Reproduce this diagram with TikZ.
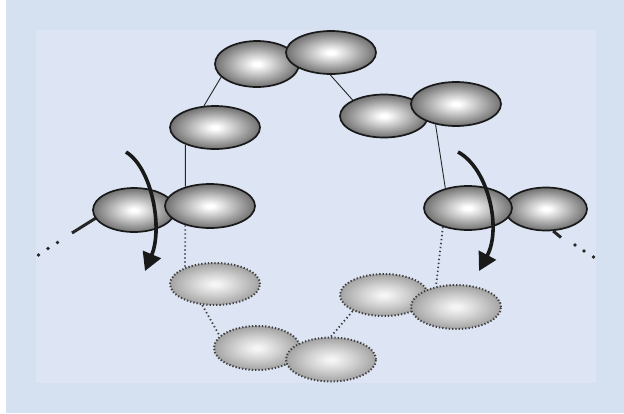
\documentclass[tikz,border=0pt]{standalone}
\usetikzlibrary{shapes.geometric,arrows.meta}
\definecolor{outerbg}{HTML}{D5E0F1}
\definecolor{innerbg}{HTML}{DDE5F4}
\definecolor{dotgray}{HTML}{404040}
\pgfdeclareradialshading{beadshade}{\pgfpointorigin}{color(0bp)=(white); color(2bp)=(white); color(12bp)=(black!24); color(25bp)=(black!56); color(50bp)=(black!56)}
\pgfdeclareradialshading{ghostshade}{\pgfpointorigin}{color(0bp)=(white!96!black); color(2bp)=(white!96!black); color(12bp)=(black!17); color(25bp)=(black!36); color(50bp)=(black!36)}
\tikzset{
  bead/.style={ellipse, draw=black!90, line width=1.7pt, shading=beadshade, inner sep=0pt},
  beadshape/.style={ellipse, inner sep=0pt},
  ghost/.style={ellipse, draw=dotgray, line width=2pt, dash pattern=on 1.3pt off 2pt, shading=ghostshade, inner sep=0pt},
  link/.style={draw=black!85, line width=0.9pt},
  ghostlink/.style={draw=dotgray, line width=1.8pt, dash pattern=on 1.4pt off 2.6pt},
  stub/.style={draw=black!85, line width=3pt},
  dotmark/.style={circle, fill=black!85, inner sep=0pt, minimum size=3.8pt},
  turn/.style={draw=black!90, line width=3.6pt, -{Triangle[length=18pt,width=19pt]}}
}
\begin{document}
\begin{tikzpicture}[x=1pt,y=-1pt]
\useasboundingbox (0,0) rectangle (624,413);
\fill[outerbg] (0,0) rectangle (624,413);
\fill[white] (0,0) rectangle (6,413);
\fill[innerbg] (36,30) rectangle (596,383);

% free ends of the stubs
\coordinate (stubL) at (72,233);
\coordinate (stubR) at (561,237.5);

% lower (ghost) beads
\node[ghost, minimum width=86, minimum height=44] (n13) at (257,348) {};
\node[ghost, minimum width=90, minimum height=44] (n14) at (331,359.5) {};
\node[ghost, minimum width=88, minimum height=42] (n11) at (384,295) {};
\node[ghost, minimum width=90, minimum height=44] (n12) at (456,307) {};
\node[ghost, minimum width=90, minimum height=42] (n10) at (215,284) {};

% upper beads
\node[bead, minimum width=84, minimum height=46] (n1) at (257,64) {};
\node[bead, minimum width=90, minimum height=43] (n2) at (331,52.5) {};
\node[bead, minimum width=88, minimum height=43] (n4) at (384,116) {};
\node[bead, minimum width=90, minimum height=44] (n5) at (456,104) {};
\node[bead, minimum width=90, minimum height=43] (n3) at (215,127.5) {};

% left stub behind n6
\path node[beadshape, minimum width=82, minimum height=44] (n6) at (134,210) {};
\draw[stub] (stubL) -- (n6.192);
\node[bead, minimum width=82, minimum height=44] (n6) at (134,210) {};
\node[bead, minimum width=90, minimum height=44] (n7) at (210,206) {};

% right pair
\node[bead, minimum width=82, minimum height=43] (n9) at (546,209) {};
\draw[stub] (n9.288) -- (stubR);
\node[bead, minimum width=88, minimum height=44] (n8) at (468,208) {};

% connectors
\draw[link] (n3.117) -- (n1.200);
\draw[link] (n2.268) -- (n4.153);
\draw[link] (n3.210) -- (n7.142);
\draw[link] (n5.225) -- (n8.139);
\draw[ghostlink] (n7.218) -- (n10.151);
\draw[ghostlink] (n8.217) -- (n12.134);
\draw[ghostlink] (n10.239) -- (n13.162);
\draw[ghostlink] (n14.90) -- (n11.207);

% dots
\node[dotmark] (dl1) at (57.5,242.5) {};
\node[dotmark] (dl2) at (48,248.5) {};
\node[dotmark] (dl3) at (38.5,255) {};
\node[dotmark] (dr1) at (575,245) {};
\node[dotmark] (dr2) at (584,251) {};
\node[dotmark] (dr3) at (593.5,257) {};

% rotation arrows
\coordinate (aL0) at (126,152);
\coordinate (aL1) at (145,271);
\coordinate (aR0) at (458,152);
\coordinate (aR1) at (479,271);
\draw[turn] (aL0) .. controls (152,168) and (163,228) .. (aL1);
\draw[turn] (aR0) .. controls (488,168) and (502,228) .. (aR1);
\end{tikzpicture}
\end{document}
